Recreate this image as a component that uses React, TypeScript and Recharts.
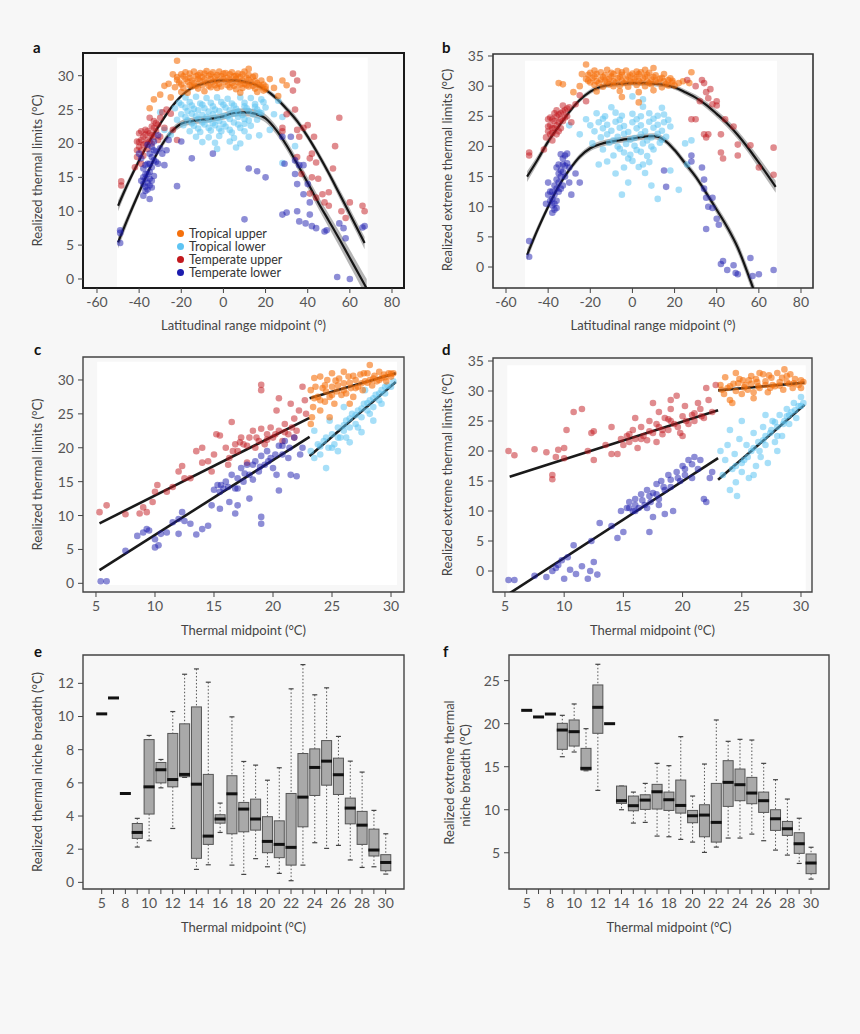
import React from 'react';
import { ComposedChart, Scatter, Line, Area, Bar, XAxis, YAxis, ReferenceArea, Legend } from 'recharts';

const FONT = 'Lato, "Open Sans", "DejaVu Sans", sans-serif';
const BG = '#f7f7f7';
const C_TROP_UP = '#f5700c';
const C_TROP_LO = '#5ec4f3';
const C_TEMP_UP = '#c2181d';
const C_TEMP_LO = '#1c1cae';

// ---------- Panel a: latitudinal midpoint vs realized thermal limits ----------
const aTropUpper = [
  [-18,30.5],[-14,30.6],[-11,30.4],[-8,30.7],[-5,30.5],[-2,30.6],[1,30.4],[4,30.5],[7,30.3],[10,30.6],
  [-22,29.8],[-19,29.9],[-16,29.7],[-13,29.9],[-10,29.8],[-7,30.0],[-4,29.8],[-1,29.9],[2,29.7],[5,29.9],[8,29.8],[11,29.7],[14,29.8],
  [-21,29.0],[-17,29.1],[-14,28.9],[-11,29.2],[-8,29.0],[-5,29.1],[-2,28.8],[1,29.1],[4,28.9],[7,29.0],[10,28.8],[13,29.0],[16,28.9],[19,28.7],
  [-23,28.3],[-19,28.2],[-15,28.4],[-12,28.1],[-6,28.3],[-3,28.2],[3,28.3],[6,28.0],[9,28.2],[12,28.4],[15,28.1],[18,28.3],[20,28.0],
  [-20,27.6],[-17,27.5],[-9,27.7],[8,27.5],[16,27.6],[19,27.8],
  [-22,32.2],[-30,27.2],[-28,28.5],[-33,26.5],[-25,26.8],[-26,28.8],[-35,25.2],[24,28.2],[26,27.0],[28,29.3],[30,28.6],[22,29.5],[-24,30.2],[12,31.0],
  [-20,30.2],[-16,30.3],[-12,30.1],[-9,30.3],[-6,30.2],[-3,30.1],[0,30.3],[3,30.2],[6,30.0],[9,30.2],[12,30.1],[15,30.0],
  [-22,29.4],[-18,29.5],[-15,29.3],[-12,29.5],[-9,29.4],[-6,29.5],[-3,29.3],[0,29.5],[3,29.4],[6,29.5],[9,29.3],[12,29.4],[15,29.2],[18,29.3],
  [-20,28.7],[-16,28.6],[-13,28.5],[-10,28.6],[-7,28.5],[-4,28.6],[-1,28.4],[2,28.6],[5,28.5],[8,28.7],[11,28.6],[14,28.5],[17,28.6],[20,28.4]
];
const aTropLower = [
  [-18,26.8],[-13,26.9],[-8,26.7],[-3,26.8],[2,26.6],[8,26.8],[13,26.7],[18,26.5],
  [-21,26.0],[-16,26.1],[-11,25.9],[-6,26.0],[-1,26.1],[4,25.9],[10,26.0],[15,25.8],[19,26.1],
  [-23,25.2],[-18,25.3],[-14,25.1],[-9,25.2],[-4,25.0],[1,25.3],[6,25.1],[11,25.2],[16,25.0],[20,25.3],
  [-20,24.3],[-15,24.4],[-10,24.2],[-5,24.3],[0,24.1],[5,24.4],[9,24.2],[14,24.3],[18,24.5],
  [-22,23.5],[-17,23.4],[-12,23.6],[-7,23.5],[-2,23.3],[3,23.6],[12,23.4],[16,23.5],
  [-19,22.7],[-14,22.6],[-9,22.8],[-4,22.7],[1,22.5],[7,22.8],[13,22.6],
  [-16,21.8],[-11,21.7],[-6,21.9],[-1,21.8],[4,21.6],[10,21.8],[17,21.2],
  [-13,21.0],[-7,20.9],[-2,21.1],[5,20.8],[12,21.0],
  [-10,20.2],[-4,20.1],[3,20.3],[8,20.0],
  [-3,19.2],[6,19.4],
  [-30,24.6],[-28,22.0],[24,24.3],[26,26.3],[28,23.9],[28,17.1],[34,19.6],[-25,21.3],[22,22.0],
  [-20,25.7],[-15,25.6],[-10,25.7],[-5,25.5],[0,25.7],[5,25.6],[10,25.5],[15,25.4],
  [-17,24.8],[-12,24.9],[-7,24.7],[-2,24.8],[3,24.9],[7,24.7],[12,24.8],[17,24.6],
  [-18,23.9],[-13,24.0],[-8,23.9],[-3,23.8],[2,24.0],[7,23.9],[10,23.6],
  [-15,23.0],[-10,23.1],[-5,23.0],[0,22.9],[5,23.1],[10,22.9],
  [-12,22.2],[-7,22.3],[-2,22.2],[3,22.0],[8,22.3]
];
const aTempUpper = [
  [-41,18],[-40,19.5],[-39,20.5],[-38,21],[-37,22],[-36,20.5],[-35,21.5],[-34,22.5],[-33,23.3],[-32,21.8],[-31,22.8],[-30,23.8],[-29,24.6],[-28,22.3],
  [-38,18.2],[-36,19.2],[-34,20.0],[-40,21.5],[-42,16.5],[-39,17.0],[-33,21.0],[-35,23.8],[-30,21.0],[-27,25.0],[-37,20.0],[-41,20.3],
  [-40,20.2],[-39,19.0],[-38,19.8],[-37,21.3],[-36,21.8],[-35,20.3],[-34,21.2],[-33,22.3],[-32,23.0],[-31,20.5],[-39,21.8],[-41,19.0],
  [-48.5,14.4],[-48.5,13.8],[-25,24.4],[-24,22.0],[-22,20.5],
  [28,21.8],[28,22.3],[30,24.3],[33,27.8],[34,25.0],[35,22.0],[36,21.0],[35,18.0],[37,15.5],[38,22.3],[40,22.7],[41,17.8],[42,15.0],[42,18.5],
  [43,21.0],[44,17.2],[45,14.8],[47,12.5],[48,11.3],[50,12.8],[50,10.8],[52,16.3],[53,19.6],[55,23.8],[56,10.0],[58,9.0],[60,11.3],[66,10.8],[67,10.0],
  [33,30.3],[35,29.3],[41,12.6],[44,12.0]
];
const aTempLower = [
  [-38,14],[-37,13.6],[-36,14.2],[-35,13.8],[-37,15.5],[-35,15.8],[-36,17],[-34,16.5],[-33,17.5],[-35,18.5],[-34,19.5],[-33,20.3],[-32,18.8],[-31,21.2],[-30,19.3],
  [-38,16.3],[-39,17.8],[-40,18.5],[-36,19.8],[-33,15.2],[-31,17.0],[-29,18.5],[-27,19.0],[-28,16.8],[-38,12.3],[-35,11.8],[-26,20.5],[-22,13.7],[-20,20.3],[-37,14.8],[-34,14.5],
  [-38,15],[-37,16.8],[-36,15.5],[-35,17],[-34,18],[-33,19],[-36,13.2],[-37,13.0],[-35,14.8],[-32,17.3],[-39,14.5],[-34,13.5],
  [-49,7.2],[-49,5.3],[-49,6.8],
  [10,8.8],[12,16.3],[16,15.9],[20,15.0],[28,21.0],[29,17.0],[32,21.0],[34,15.5],[35,14.0],[36,16.8],[38,16.8],[30,9.8],[28,9.5],[35,10.0],[36,8.5],[39,8.2],
  [41,11.3],[41,9.5],[42,7.8],[44,7.5],[48,7.0],[49,7.2],[54,0.3],[55,8.2],[57,7.5],[58,6.0],[60,0.0],[66,7.6],[67,7.8],[38,12.5],[40,14.0],[34,17.5],[-5,18.5],[-15,17.8]
];
const aUpperX = [-50,-45,-40,-35,-30,-25,-20,-15,-10,-5,0,5,10,15,20,25,30,35,40,45,50,55,60,67];
const aUpperY = [10.8,14.3,17.5,20.4,22.9,25.2,27.0,28.2,28.8,29.2,29.3,29.3,29.1,28.7,27.9,26.7,25.1,23.3,21.0,18.4,15.6,12.6,9.6,5.3];
const aUpperSe = [0.8,0.6,0.5,0.45,0.4,0.35,0.3,0.3,0.3,0.3,0.3,0.3,0.3,0.3,0.35,0.4,0.45,0.5,0.5,0.55,0.6,0.7,0.8,0.9];
const aLowerX = [-50,-45,-40,-35,-30,-25,-20,-15,-10,-5,0,5,10,15,20,25,30,35,40,45,50,55,60,65,68];
const aLowerY = [5.4,9.2,12.8,16.3,19.4,21.6,22.9,23.3,23.5,23.7,24.0,24.5,24.6,24.4,23.7,22.0,19.7,17.0,14.2,11.3,8.6,5.9,3.1,0.3,-1.4];
const aLowerSe = [0.9,0.7,0.6,0.55,0.5,0.5,0.5,0.5,0.5,0.5,0.5,0.55,0.6,0.6,0.6,0.65,0.7,0.75,0.8,0.9,1.0,1.1,1.2,1.3,1.4];

// ---------- Panel b: latitudinal midpoint vs realized extreme thermal limits ----------
const bTropUpper = [
  [-18,32.6],[-12,32.7],[-7,32.5],[-3,32.6],[2,32.4],[6,32.7],
  [-21,31.9],[-17,32.0],[-13,31.8],[-9,32.0],[-5,31.9],[-1,31.8],[3,32.0],[7,31.9],[11,31.8],
  [-22,31.2],[-19,31.3],[-15,31.1],[-11,31.2],[-7,31.3],[-3,31.1],[1,31.2],[5,31.3],[9,31.1],[13,31.2],[17,31.0],
  [-20,30.6],[-16,30.5],[-12,30.7],[-8,30.6],[-4,30.5],[0,30.7],[4,30.6],[8,30.5],[12,30.6],[16,30.4],[19,30.6],
  [-14,29.9],[-9,30.0],[-2,29.9],[6,30.0],[14,29.8],[20,30.1],
  [-17,29.1],[-6,29.2],[3,29.0],[10,29.3],
  [-22,33.6],[-25,30.0],[-28,29.0],[-35,30.5],[-33,30.3],[10,33.0],[22,30.5],[24,30.8],[27,30.5],[28,32.3],[3,27.3],[-5,28.2],[-24,32.0],[15,32.0],
  [-20,32.2],[-15,32.3],[-10,32.2],[-5,32.3],[0,32.1],[4,32.3],[8,32.2],
  [-18,31.6],[-14,31.5],[-10,31.6],[-6,31.5],[-2,31.6],[2,31.5],[6,31.6],[10,31.5],[14,31.4],[18,31.3],
  [-21,30.9],[-17,30.8],[-13,30.9],[-9,30.8],[-5,30.9],[-1,30.8],[3,30.9],[7,30.8],[11,30.9],[15,30.8],[19,30.9],
  [-18,30.2],[-11,30.3],[-6,30.1],[2,30.2],[9,30.3],[17,30.1]
];
const bTropLower = [
  [-10,26.5],[5,26.6],[14,26.4],
  [-17,25.5],[-8,25.6],[0,25.4],[8,25.5],[15,25.3],
  [-22,24.5],[-14,24.6],[-6,24.4],[2,24.5],[10,24.6],[17,24.4],
  [-20,23.5],[-12,23.6],[-4,23.4],[4,23.5],[12,23.6],[18,23.3],
  [-18,22.5],[-10,22.6],[-2,22.4],[6,22.5],[14,22.6],
  [-15,21.5],[-7,21.6],[1,21.4],[9,21.5],[16,21.6],
  [-19,20.5],[-11,20.6],[-3,20.4],[5,20.5],[13,20.6],
  [-14,19.5],[-6,19.6],[2,19.4],[10,19.5],
  [-9,18.5],[-1,18.6],[7,18.4],
  [-12,17.5],[0,17.6],[8,17.4],
  [-4,16.5],[3,16.6],
  [-8,15.5],[6,15.6],
  [-30,23.5],[-25,22.0],[25,20.5],[28,21.0],[26,17.0],[-5,12.0],[12,11.3],[22,12.8],[0,28.3],[5,27.8],[-16,17.0],[18,16.0],[-2,14.0],[9,13.5],
  [-13,25.0],[-5,25.1],[4,25.0],[12,25.1],
  [-16,24.0],[-8,24.1],[0,24.0],[8,24.1],[15,24.0],
  [-14,23.0],[-6,23.1],[2,23.0],[10,23.1],
  [-12,22.0],[-4,22.1],[4,22.0],[12,22.1],
  [-9,21.0],[-1,21.1],[7,21.0],[14,21.1],
  [-7,20.0],[1,20.1],[9,20.0],
  [-4,19.0],[4,19.1],[-2,18.0],[5,17.0]
];
const bTempUpper = [
  [-41,21.5],[-40,22.5],[-39,23.5],[-38,24.5],[-37,23.0],[-36,25.0],[-35,24.0],[-34,25.5],[-33,24.2],[-32,26.0],[-31,25.0],[-30,26.5],
  [-38,21.0],[-36,22.0],[-34,23.0],[-40,24.5],[-29,24.0],[-27,27.0],[-25,28.5],[-22,27.5],[-37,25.5],[-35,22.5],[-33,26.8],[-39,22.0],
  [-40,23.3],[-39,24.8],[-38,23.0],[-37,24.2],[-36,23.5],[-35,25.3],[-34,24.5],[-33,25.8],[-32,24.8],[-31,26.3],[-38,22.2],[-36,26.0],
  [-49,19.0],[-49,18.5],[-42,19.5],
  [28,24.5],[30,24.5],[33,31.0],[34,30.5],[35,29.0],[36,28.0],[37,29.5],[38,27.0],[40,26.8],[40,27.5],[34,22.0],[35,21.5],[36,22.0],
  [42,22.0],[42,19.0],[43,18.0],[48,23.3],[50,20.3],[50,18.5],[56,20.2],[60,16.5],[67,19.8],[67,15.3],[26,31.0],[30,30.0],[32,27.5],[44,24.5]
];
const bTempLower = [
  [-40,14],[-40,12],[-39,11],[-38,10.2],[-37,9.5],[-38,12.5],[-37,13.5],[-36,11.0],[-36,14.5],[-35,15.5],[-35,12.5],[-34,16.0],[-34,13.0],
  [-33,17.0],[-33,18.0],[-32,18.5],[-32,15.0],[-31,17.2],[-30,16.5],[-30,14.0],[-29,12.0],[-27,15.5],[-25,14.0],[-38,9.0],[-41,10.5],[-36,16.5],[-34,18.7],[-31,18.8],
  [-39,12.5],[-38,11.3],[-37,12.0],[-36,13.0],[-35,14.0],[-34,15.0],[-33,15.8],[-32,16.8],[-37,10.5],[-36,9.8],[-35,17.0],[-33,13.5],
  [-49,4.3],[-49,1.7],
  [15,16.0],[16,13.3],[28,18.5],[33,16.5],[34,14.5],[34,13.0],[35,11.5],[36,10.0],[38,11.5],[40,8.0],[35,6.3],[42,0.5],[43,1.0],[45,-0.5],
  [48,0.3],[49,-1.0],[50,-1.2],[56,1.5],[57,-1.5],[60,-1.2],[67,-0.5],[28,17.5],[38,9.8],[41,7.0]
];
const bUpperX = [-50,-45,-40,-35,-30,-25,-20,-15,-10,-5,0,5,10,15,20,25,30,35,40,45,50,55,60,68];
const bUpperY = [15.0,17.8,20.8,23.3,25.7,27.7,29.1,29.9,30.3,30.4,30.5,30.5,30.4,30.2,29.8,29.0,28.1,26.9,25.4,23.8,21.9,19.7,17.3,13.3];
const bUpperSe = [0.9,0.7,0.6,0.5,0.45,0.4,0.4,0.4,0.4,0.4,0.4,0.4,0.4,0.4,0.4,0.45,0.5,0.55,0.6,0.65,0.7,0.8,0.9,1.0];
const bLowerX = [-50,-45,-40,-35,-30,-25,-20,-15,-10,-5,0,5,10,15,20,25,30,35,40,45,50,55,58];
const bLowerY = [2.0,6.2,10.0,13.4,16.1,18.3,19.7,20.4,20.8,21.1,21.3,21.6,21.7,21.1,19.4,17.2,15.0,12.3,9.5,6.6,3.2,-1.3,-4.2];
const bLowerSe = [0.9,0.7,0.6,0.55,0.5,0.5,0.5,0.5,0.5,0.5,0.5,0.5,0.5,0.5,0.55,0.6,0.6,0.65,0.7,0.8,0.9,1.0,1.1];

// ---------- Panel c: thermal midpoint vs realized thermal limits ----------
const cTempUpper = [
  [5.3,10.5],[5.9,11.5],[7.5,10.2],[8.7,10.3],[9,11.2],[9.3,10.5],[9.8,12.0],[10,13.5],[10.2,14.5],[11,13.5],[11.5,14.2],[12,16.5],[12.3,17.3],[12.5,15.5],
  [13,15.5],[13.5,19.5],[14,20.0],[14.5,18.0],[14.8,16.5],[15,19.0],[15.2,22.0],[15.5,21.8],[16,20.0],[16.3,18.5],[16.5,23.8],[16.8,20.5],[17,19.5],
  [17.3,21.5],[17.5,20.5],[17.8,17.8],[18,21.5],[18.3,22.5],[18.5,20.0],[18.8,21.0],[19,22.8],[19,29.3],[19,28.5],[19.3,20.5],[19.5,22.0],[19.8,23.0],
  [20,21.5],[20.3,25.5],[20.5,22.5],[20.8,21.0],[21,23.5],[21.3,22.0],[21.5,26.5],[21.8,24.3],[22,22.5],[22.2,25.5],[22.5,29.0],[22.7,27.0],[22.8,25.0],
  [20.5,27.3],[16.2,17.5],[14,17.8],[21.8,21.5],
  [17.2,20.8],[17.8,20.3],[18.6,21.5],[19.5,21.2],[20.2,22.0],[21.0,22.3],[21.6,23.0],[16.6,19.5]
];
const cTempLower = [
  [5.4,0.3],[5.9,0.3],[7.5,4.8],[8.5,7.0],[9,7.5],[9.3,8.0],[9.5,7.8],[10,6.5],[10,5.3],[10.3,5.6],[10.5,7.3],[11,7.5],[11.5,9.0],[12,9.5],[12.3,10.5],
  [12.5,9.2],[12,7.3],[13,8.8],[13.5,7.2],[14,8.0],[14.5,8.5],[14.8,11.5],[15,13.8],[15.3,14.5],[15.5,13.5],[15.8,14.0],[16,15.0],[16.3,12.0],[16.5,16.0],
  [16.8,14.0],[17,15.5],[17.3,17.0],[17.5,15.0],[17.8,17.5],[18,16.0],[18.3,17.5],[18.5,18.0],[18.8,16.5],[19,18.8],[19,9.8],[19,8.8],[19.3,17.5],
  [19.5,19.5],[19.8,18.5],[20,17.0],[20.3,16.0],[20.5,20.3],[20.8,19.0],[21,21.0],[21.3,18.5],[21.5,16.0],[21.8,21.5],[22,15.8],[22.3,19.0],
  [20.5,13.7],[18,12.5],[17,11.5],[22.5,20.0],[15.5,11.0],[16.8,10.3],
  [17.0,14.0],[17.6,16.2],[18.3,15.3],[18.9,17.2],[19.6,18.0],[20.2,19.0],[20.8,20.3],[21.4,20.0],[16.2,14.2],[15.6,14.5]
];
const cTropUpper = [
  [23.2,28.5],[23.4,26.0],[23.3,24.5],[23.6,29.0],[23.8,27.5],[24.0,25.5],[24.2,28.8],[24.4,26.8],[24.6,30.0],[24.8,27.5],[25.0,29.0],[25.2,26.5],
  [25.4,28.3],[25.6,30.2],[25.8,27.8],[26.0,29.5],[26.2,28.0],[26.4,30.5],[26.6,28.8],[26.8,27.5],[27.0,30.0],[27.2,29.0],[27.4,30.8],[27.6,28.5],
  [27.8,29.8],[28.0,31.0],[28.2,30.0],[28.4,29.2],[28.6,30.6],[28.8,29.8],[29.0,31.2],[29.2,30.3],[29.4,30.8],[29.6,29.8],[29.8,31.0],[30.0,30.5],
  [30.2,31.0],[28.2,32.2],[26,31.2],[25,31.0],[24,30.5],[23.5,30.3],[26.5,26.5],[24.8,24.5],[23.2,23.5],
  [23.5,27.3],[24.0,27.0],[24.5,28.3],[25.0,27.8],[25.5,29.2],[26.0,28.5],[26.5,29.6],[27.0,28.8],[27.5,29.5],[28.0,29.6],[28.5,30.2],[29.0,30.0],
  [29.5,30.4],[30.0,30.9],[25.3,29.9],[26.8,30.6],[24.4,29.2],[27.7,31.0]
];
const cTropLower = [
  [23.2,19.5],[23.5,18.5],[23.8,20.5],[24,19.0],[24.3,21.0],[24.5,17.0],[24.7,20.0],[25,22.0],[25.2,20.5],[25.5,23.0],[25.7,21.5],[26,22.5],[26.2,24.0],
  [26.5,23.0],[26.7,25.0],[27,23.5],[27.2,25.5],[27.5,24.5],[27.7,26.5],[28,25.5],[28.2,27.0],[28.5,26.0],[28.7,27.8],[29,27.0],[29.2,28.5],[29.5,28.0],
  [29.7,29.2],[30,29.0],[30.2,29.8],[25.5,19.5],[26.5,20.8],[27.5,22.3],[28.5,24.0],[23.5,22.5],[24.8,24.0],[26.0,26.0],[27.8,28.5],
  [24.0,20.2],[24.5,21.5],[25.0,20.0],[25.5,21.5],[26.0,23.3],[26.5,24.3],[27.0,24.8],[27.5,25.8],[28.0,26.6],[28.5,27.3],[29.0,28.0],[29.5,29.0],
  [26.2,21.5],[27.2,23.0],[28.2,25.0],[29.2,26.5]
];
const cFitTempUpper = [[5.3,8.85],[23.1,24.4]];
const cFitTempLower = [[5.3,1.96],[23.1,21.6]];
const cFitTropUpper = [[23.1,27.3],[30.4,31.0]];
const cFitTropLower = [[23.1,18.8],[30.4,29.7]];

// ---------- Panel d: thermal midpoint vs realized extreme thermal limits ----------
const dTempUpper = [
  [5.3,20.0],[5.8,19.3],[7.5,20.3],[8.5,19.8],[9,16.0],[9,15.3],[9.3,19.0],[9.5,20.2],[10,18.8],[10,20.5],[10.2,23.5],[10.8,26.5],[11.5,27.0],[12,20.0],
  [12.3,23.0],[12.5,18.5],[12.5,23.3],[13.5,21.0],[14,19.5],[14.5,19.5],[14.8,22.0],[15,21.0],[15.3,22.5],[15.5,21.5],[15.8,23.5],[16,22.0],[16.2,20.5],
  [16.5,24.0],[16.7,22.5],[17,21.8],[17.2,25.0],[17.5,23.0],[17.8,21.5],[18,26.5],[18,24.0],[18.3,22.8],[18.5,25.5],[18.8,23.5],[19,28.5],[19,27.0],
  [19.3,24.5],[19.5,29.2],[19.8,23.0],[20,25.8],[20.2,27.5],[20.5,24.5],[20.8,26.0],[21,25.0],[21.3,28.0],[21.5,27.0],[21.8,25.5],[22,30.5],[22.2,28.5],
  [22.5,26.5],[22.8,31.0],[17.5,28.0],[20,22.5],[16,25.5],[14,24.0],
  [16.5,22.0],[17.2,23.3],[17.8,24.5],[18.3,23.5],[19.0,25.0],[19.6,24.0],[20.3,25.0],[21.0,26.3],[21.6,25.8],[15.5,22.8],[18.8,25.3]
];
const dTempLower = [
  [5.3,-1.5],[5.8,-1.5],[7.5,-0.8],[8.5,-1.0],[9,0.0],[9.3,0.5],[9.5,1.0],[9.8,1.8],[10,-1.3],[10.3,2.3],[10.5,0.2],[10.8,4.3],[11,-0.5],[11.5,0.8],
  [12,-1.3],[12.2,0.0],[12.5,1.5],[12.3,5.0],[12.8,-0.6],[13,8.0],[14,7.5],[14.5,5.5],[14.8,10.0],[15,6.5],[15.3,10.5],[15.5,11.5],[15.8,10.0],[16,12.0],
  [16.3,10.5],[16.5,12.8],[16.8,11.0],[17,13.5],[17.2,6.5],[17.3,11.5],[17.5,13.0],[17.8,14.5],[18,12.0],[18.2,15.0],[18.5,13.5],[18.8,16.0],[19,14.0],
  [19.2,10.0],[19.5,16.5],[19.8,15.0],[20,17.5],[20.2,16.0],[20.5,18.5],[20.8,15.5],[21,19.0],[21.3,17.0],[21.5,18.5],[21.8,12.0],[22,11.5],[22.3,15.5],
  [22.5,16.5],[18.5,9.5],[17.5,9.0],[16,10.0],
  [16.0,11.0],[16.6,11.8],[17.2,12.5],[17.8,12.8],[18.4,14.0],[19.0,15.2],[19.6,15.5],[20.2,17.0],[20.8,17.8],[15.5,10.5],[17.0,10.5],[18.0,11.0]
];
const dTropUpper = [
  [23.2,31.0],[23.5,29.5],[23.8,30.5],[24.0,28.5],[24.3,31.2],[24.5,30.0],[24.8,32.0],[25.0,29.5],[25.3,31.0],[25.5,30.2],[25.8,32.5],[26.0,29.8],
  [26.3,31.5],[26.5,30.5],[26.8,32.8],[27.0,31.0],[27.2,29.8],[27.5,32.2],[27.8,30.8],[28.0,33.0],[28.2,31.5],[28.5,30.2],[28.8,32.5],[29.0,31.2],
  [29.3,30.5],[29.5,32.0],[29.8,31.0],[30.0,30.5],[30.2,31.5],[28.6,33.6],[26.5,33.0],[24.5,33.0],[23.3,30.2],[23.6,32.3],[26.0,28.8],[24.2,28.0],
  [27.4,30.5],[25.6,31.8],
  [24.0,30.8],[24.7,31.3],[25.2,30.6],[25.8,31.2],[26.4,30.8],[27.0,31.6],[27.6,31.0],[28.2,30.9],[28.8,31.5],[29.4,31.3],[30.0,31.8],[26.2,32.0],
  [27.3,32.6],[28.4,32.2],[25.1,31.8],[29.1,32.8]
];
const dTropLower = [
  [23.2,20.0],[23.4,16.0],[23.6,18.5],[23.8,21.0],[24.0,13.5],[24.2,17.0],[24.4,19.5],[24.6,12.5],[24.8,22.0],[25.0,16.5],[25.2,18.5],[25.4,21.0],
  [25.6,15.5],[25.8,20.0],[26.0,23.0],[26.2,17.5],[26.4,21.5],[26.6,19.0],[26.8,24.0],[27.0,21.0],[27.2,18.0],[27.4,23.0],[27.6,25.0],[27.8,21.5],
  [28.0,24.0],[28.2,26.0],[28.4,22.5],[28.6,25.0],[28.8,27.0],[29.0,24.5],[29.2,26.5],[29.4,28.0],[29.6,25.5],[29.8,27.5],[30.0,29.0],[30.2,28.0],
  [24.0,23.5],[25.0,25.0],[26.0,16.0],[27.0,26.0],[28.0,20.0],[24.5,14.8],
  [25.5,19.0],[26.0,20.5],[26.5,20.0],[27.0,22.5],[27.5,23.5],[28.0,22.5],[28.5,24.5],[29.0,26.0],[29.5,26.8],[30.0,27.5],[26.8,21.8],[27.8,24.8],
  [28.8,25.8],[25.0,18.0],[24.5,17.5]
];
const dFitTempUpper = [[5.4,15.7],[23.0,26.8]];
const dFitTempLower = [[5.4,-3.7],[23.0,18.8]];
const dFitTropUpper = [[23.0,30.1],[30.3,31.4]];
const dFitTropLower = [[23.0,15.2],[30.3,27.7]];

// ---------- Panels e, f: box plots by thermal midpoint ----------
const boxCategories = ['5','6','8','9','10','11','12','13','14','15','16','17','18','19','20','21','22','23','24','25','26','27','28','29','30'];
const boxTickLabels = ['5','','8','','10','','12','','14','','16','','18','','20','','22','','24','','26','','28','','30'];

const eMin = [null,null,null,2.13,2.51,5.70,3.25,6.33,0.78,1.06,3.01,1.04,0.48,1.43,0.94,0.54,0.10,1.04,2.39,2.05,2.23,1.35,0.90,0.94,0.50];
const eQ1  = [null,null,null,2.65,4.12,6.00,5.76,6.37,1.45,2.29,3.57,2.93,3.05,3.15,1.79,1.49,1.04,3.35,5.24,5.86,5.30,3.53,2.29,1.59,0.70];
const eMed = [10.16,11.12,5.36,3.01,5.76,6.79,6.20,6.51,5.92,2.79,3.82,5.34,4.42,3.82,2.47,2.29,2.11,5.14,6.93,7.31,6.49,4.48,3.45,1.95,1.20];
const eQ3  = [null,null,null,3.55,8.61,7.23,8.98,9.56,10.58,6.51,4.08,6.43,4.82,5.02,3.96,3.71,5.36,7.77,8.05,8.55,7.49,5.08,4.28,3.21,1.67];
const eMax = [null,null,null,3.86,8.86,7.41,10.30,12.55,12.87,12.07,4.78,9.98,7.29,7.07,6.16,6.91,11.67,13.13,11.31,11.73,8.80,7.31,6.65,4.34,2.93];

const fMin = [null,null,null,16.16,16.71,14.53,12.25,null,10.00,8.45,8.53,6.94,6.86,6.55,6.24,5.04,5.66,6.71,6.71,7.17,6.40,5.31,4.73,3.76,1.94];
const fQ1  = [null,null,null,17.02,17.40,14.61,18.88,null,10.74,9.88,10.04,10.08,9.92,9.61,8.49,6.86,6.24,10.39,11.05,10.70,9.69,7.60,7.02,4.93,2.57];
const fMed = [21.55,20.78,21.12,19.26,19.07,14.81,21.90,20.00,11.05,10.47,11.12,12.09,11.16,10.50,9.30,9.38,8.53,13.18,12.91,11.94,11.05,8.95,7.79,6.05,3.81];
const fQ3  = [null,null,null,20.04,20.43,17.13,24.50,null,12.75,11.59,11.74,12.95,12.05,13.45,9.92,10.58,13.06,15.70,14.73,13.76,12.05,10.00,8.64,7.33,4.86];
const fMax = [null,null,null,20.97,22.29,19.42,26.90,null,12.75,12.05,13.06,15.39,15.12,18.49,11.59,15.31,20.43,17.95,18.18,18.10,15.39,13.49,11.24,9.01,5.64];

const latTicks = [-60,-40,-20,0,20,40,60,80];
const tmidTicks = [5,10,15,20,25,30];
const y30Ticks = [0,5,10,15,20,25,30];
const y35Ticks = [0,5,10,15,20,25,30,35];
const eYTicks = [0,2,4,6,8,10,12];
const fYTicks = [5,10,15,20,25];
const boxIdxTicks = boxCategories.map((_, i) => i + 1);

// ---------- helpers ----------
const toPts = (arr) => arr.map(([x, y]) => ({ x, y }));
const toFit = (xs, ys, se) => xs.map((x, i) => ({ x, y: ys[i], lo: ys[i] - se[i], hi: ys[i] + se[i] }));
const toSeg = (arr) => arr.map(([x, y]) => ({ x, y }));
const toBoxes = (mn, q1, md, q3, mx) =>
  boxCategories.map((c, i) => ({ x: i + 1, cat: c, y: md[i], min: mn[i], q1: q1[i], q3: q3[i], max: mx[i] }));

const dot = (color, op) => (p) =>
  p.cx == null ? null : <circle cx={p.cx} cy={p.cy} r={3.3} fill={color} fillOpacity={op} stroke="none" />;

const tickStyle = { fill: '#555', fontSize: 14, fontFamily: FONT };

function scatterSet(key, up, lo, tu, tl) {
  return [
    <Scatter key={key + 'tl'} name="Tropical lower" data={toPts(lo)} fill={C_TROP_LO} shape={dot(C_TROP_LO, 0.55)} isAnimationActive={false} legendType="circle" />,
    <Scatter key={key + 'tu'} name="Tropical upper" data={toPts(up)} fill={C_TROP_UP} shape={dot(C_TROP_UP, 0.6)} isAnimationActive={false} legendType="circle" />,
    <Scatter key={key + 'eu'} name="Temperate upper" data={toPts(tu)} fill={C_TEMP_UP} shape={dot(C_TEMP_UP, 0.5)} isAnimationActive={false} legendType="circle" />,
    <Scatter key={key + 'el'} name="Temperate lower" data={toPts(tl)} fill={C_TEMP_LO} shape={dot(C_TEMP_LO, 0.5)} isAnimationActive={false} legendType="circle" />,
  ];
}

function fitCurve(key, data) {
  return [
    <Area key={key + 'band'} data={data} dataKey={(d) => [d.lo, d.hi]} type="monotone" stroke="none" fill="#9c9c9c" fillOpacity={0.75}
      isAnimationActive={false} legendType="none" dot={false} activeDot={false} />,
    <Line key={key + 'line'} data={data} dataKey="y" type="monotone" stroke="#151515" strokeWidth={2.2} dot={false} activeDot={false}
      isAnimationActive={false} legendType="none" />,
  ];
}

function fitSeg(key, arr) {
  return (
    <Line key={key} data={toSeg(arr)} dataKey="y" type="linear" stroke="#1a1a1a" strokeWidth={2.6} dot={false} activeDot={false}
      isAnimationActive={false} legendType="none" />
  );
}

function Panel({ frame, xDomain, yDomain, xTicks, yTicks, xFmt, frameColor, frameWidth, white, data, children }) {
  const YW = 40;
  const XH = 30;
  const margin = { left: frame.l - YW, top: frame.t, right: 860 - frame.r, bottom: 1034 - frame.b - XH };
  return (
    <div style={{ position: 'absolute', left: 0, top: 0 }}>
      <ComposedChart width={860} height={1034} margin={margin} data={data}>
        <XAxis type="number" dataKey="x" domain={xDomain} ticks={xTicks} allowDataOverflow interval={0} axisLine={false}
          tickLine={{ stroke: '#444' }} tickSize={5} tickMargin={4} tick={tickStyle} height={XH} tickFormatter={xFmt} />
        <YAxis type="number" dataKey="y" domain={yDomain} ticks={yTicks} allowDataOverflow interval={0} axisLine={false}
          tickLine={{ stroke: '#444' }} tickSize={5} tickMargin={4} tick={tickStyle} width={YW} />
        {white ? (
          <ReferenceArea x1={white[0]} x2={white[1]} y1={white[2]} y2={white[3]} fill="#ffffff" fillOpacity={1} stroke="none" ifOverflow="visible" />
        ) : null}
        {children}
        <ReferenceArea x1={xDomain[0]} x2={xDomain[1]} y1={yDomain[0]} y2={yDomain[1]} fill="none" stroke={frameColor} strokeWidth={frameWidth} ifOverflow="visible" />
      </ComposedChart>
    </div>
  );
}

const BoxShape = (props) => {
  const { x, y, width, height, payload } = props;
  if (payload == null || payload.q1 == null || x == null || y == null) return null;
  const top = Math.min(y, y + height);
  const bot = Math.max(y, y + height);
  const cx = x + width / 2;
  const span = payload.max - payload.min;
  const pv = (v) => (span === 0 ? top : top + ((payload.max - v) / span) * (bot - top));
  const yq3 = pv(payload.q3);
  const yq1 = pv(payload.q1);
  return (
    <g>
      <line x1={cx} x2={cx} y1={top} y2={yq3} stroke="#555" strokeWidth={1} strokeDasharray="1.5 2" />
      <line x1={cx} x2={cx} y1={yq1} y2={bot} stroke="#555" strokeWidth={1} strokeDasharray="1.5 2" />
      <line x1={cx - 2.5} x2={cx + 2.5} y1={top} y2={top} stroke="#444" strokeWidth={1.2} />
      <line x1={cx - 2.5} x2={cx + 2.5} y1={bot} y2={bot} stroke="#444" strokeWidth={1.2} />
      <rect x={cx - 5} y={yq3} width={10} height={Math.max(0.5, yq1 - yq3)} fill="#a9a9a9" stroke="#555" strokeWidth={1} />
    </g>
  );
};

const MedianShape = (p) =>
  p.cx == null ? null : <line x1={p.cx - 5.5} x2={p.cx + 5.5} y1={p.cy} y2={p.cy} stroke="#111" strokeWidth={3} />;

function boxSeries(key, rows) {
  return [
    <Bar key={key + 'box'} dataKey={(d) => (d.q1 == null ? null : [d.min, d.max])} barSize={10} shape={BoxShape}
      isAnimationActive={false} legendType="none" />,
    <Scatter key={key + 'med'} data={rows} fill="#111" shape={MedianShape} isAnimationActive={false} legendType="none" />,
  ];
}

const legendOrder = ['Tropical upper', 'Tropical lower', 'Temperate upper', 'Temperate lower'];
const renderLegend = (props) => {
  const items = (props.payload || []).filter((p) => legendOrder.indexOf(p.value) >= 0);
  items.sort((a, b) => legendOrder.indexOf(a.value) - legendOrder.indexOf(b.value));
  return (
    <div style={{ fontFamily: FONT, fontSize: 12.5, color: '#333' }}>
      {items.map((it) => (
        <div key={it.value} style={{ display: 'flex', alignItems: 'center', height: 13, lineHeight: '13px' }}>
          <span style={{ display: 'inline-block', width: 7, height: 7, borderRadius: 4, background: it.color, marginRight: 5.5 }} />
          <span>{it.value}</span>
        </div>
      ))}
    </div>
  );
};

function Titles() {
  const t = { fontFamily: FONT, fontSize: 13, fill: '#444' };
  const lab = { fontFamily: FONT, fontSize: 15, fontWeight: 700, fill: '#111' };
  const yt = (x, y, s) => (
    <text transform={`translate(${x},${y}) rotate(-90)`} textAnchor="middle" dominantBaseline="central" style={t}>{s}</text>
  );
  const xt = (x, y, s) => (
    <text x={x} y={y} textAnchor="middle" dominantBaseline="central" style={t}>{s}</text>
  );
  return (
    <svg width={860} height={1034} style={{ position: 'absolute', left: 0, top: 0, pointerEvents: 'none' }}>
      <text x={33} y={53} style={lab}>a</text>
      <text x={442} y={53} style={lab}>b</text>
      <text x={34} y={355} style={lab}>c</text>
      <text x={442} y={355} style={lab}>d</text>
      <text x={34} y={657} style={lab}>e</text>
      <text x={443} y={657} style={lab}>f</text>
      {xt(243.5, 325, 'Latitudinal range midpoint (°)')}
      {xt(653, 325, 'Latitudinal range midpoint (°)')}
      {xt(243.5, 630, 'Thermal midpoint (°C)')}
      {xt(652.5, 629.5, 'Thermal midpoint (°C)')}
      {xt(243.5, 927, 'Thermal midpoint (°C)')}
      {xt(669, 927, 'Thermal midpoint (°C)')}
      {yt(37, 170.5, 'Realized thermal limits (°C)')}
      {yt(446.5, 170, 'Realized extreme thermal limits (°C)')}
      {yt(37, 474.5, 'Realized thermal limits (°C)')}
      {yt(446.5, 475, 'Realized extreme thermal limits (°C)')}
      {yt(37, 772, 'Realized thermal niche breadth (°C)')}
      {yt(449, 772.5, 'Realized extreme thermal')}
      {yt(464.5, 775.5, 'niche breadth (°C)')}
    </svg>
  );
}

export default function App() {
  const boxFmt = (v) => boxTickLabels[Math.round(v) - 1] || '';
  const eRows = toBoxes(eMin, eQ1, eMed, eQ3, eMax);
  const fRows = toBoxes(fMin, fQ1, fMed, fQ3, fMax);
  return (
    <div style={{ position: 'absolute', left: 0, top: 0, width: 860, height: 1034, background: BG, overflow: 'hidden' }}>
      <Panel frame={{ l: 83, t: 53, r: 404, b: 288 }} xDomain={[-66.64, 85.7]} yDomain={[-1.33, 33.35]} xTicks={latTicks} yTicks={y30Ticks}
        frameColor="#1a1a1a" frameWidth={2} white={[-50.5, 68.5, -1.33, 32.7]}>
        {scatterSet('a', aTropUpper, aTropLower, aTempUpper, aTempLower)}
        {fitCurve('au', toFit(aUpperX, aUpperY, aUpperSe))}
        {fitCurve('al', toFit(aLowerX, aLowerY, aLowerSe))}
        <Legend layout="vertical" align="center" verticalAlign="middle" content={renderLegend}
          wrapperStyle={{ left: 176.5, top: 226.5, width: 160, height: 54 }} />
      </Panel>
      <Panel frame={{ l: 493, t: 54, r: 813, b: 288 }} xDomain={[-66.17, 85.7]} yDomain={[-3.48, 35.33]} xTicks={latTicks} yTicks={y35Ticks}
        frameColor="#333" frameWidth={1.6} white={[-51, 68.6, -3.48, 34.2]}>
        {scatterSet('b', bTropUpper, bTropLower, bTempUpper, bTempLower)}
        {fitCurve('bu', toFit(bUpperX, bUpperY, bUpperSe))}
        {fitCurve('bl', toFit(bLowerX, bLowerY, bLowerSe))}
      </Panel>
      <Panel frame={{ l: 83, t: 357, r: 404, b: 592 }} xDomain={[3.9, 31.1]} yDomain={[-1.28, 33.39]} xTicks={tmidTicks} yTicks={y30Ticks}
        frameColor="#444" frameWidth={1.4} white={[5.1, 30.5, -0.25, 32.7]}>
        {scatterSet('c', cTropUpper, cTropLower, cTempUpper, cTempLower)}
        {fitSeg('c1', cFitTempUpper)}
        {fitSeg('c2', cFitTempLower)}
        {fitSeg('c3', cFitTropUpper)}
        {fitSeg('c4', cFitTropLower)}
      </Panel>
      <Panel frame={{ l: 493, t: 358, r: 812, b: 592 }} xDomain={[3.99, 30.93]} yDomain={[-3.5, 35.5]} xTicks={tmidTicks} yTicks={y35Ticks}
        frameColor="#444" frameWidth={1.4} white={[5.2, 30.4, -3.5, 34.3]}>
        {scatterSet('d', dTropUpper, dTropLower, dTempUpper, dTempLower)}
        {fitSeg('d1', dFitTempUpper)}
        {fitSeg('d2', dFitTempLower)}
        {fitSeg('d3', dFitTropUpper)}
        {fitSeg('d4', dFitTropLower)}
      </Panel>
      <Panel frame={{ l: 83, t: 655, r: 404, b: 889 }} xDomain={[-0.58, 26.547]} yDomain={[-0.4, 13.71]} xTicks={boxIdxTicks} yTicks={eYTicks}
        xFmt={boxFmt} frameColor="#444" frameWidth={1.4} data={eRows}>
        {boxSeries('e', eRows)}
      </Panel>
      <Panel frame={{ l: 509, t: 655, r: 829, b: 889 }} xDomain={[-0.494, 26.52]} yDomain={[0.79, 27.98]} xTicks={boxIdxTicks} yTicks={fYTicks}
        xFmt={boxFmt} frameColor="#444" frameWidth={1.4} data={fRows}>
        {boxSeries('f', fRows)}
      </Panel>
      <Titles />
    </div>
  );
}
